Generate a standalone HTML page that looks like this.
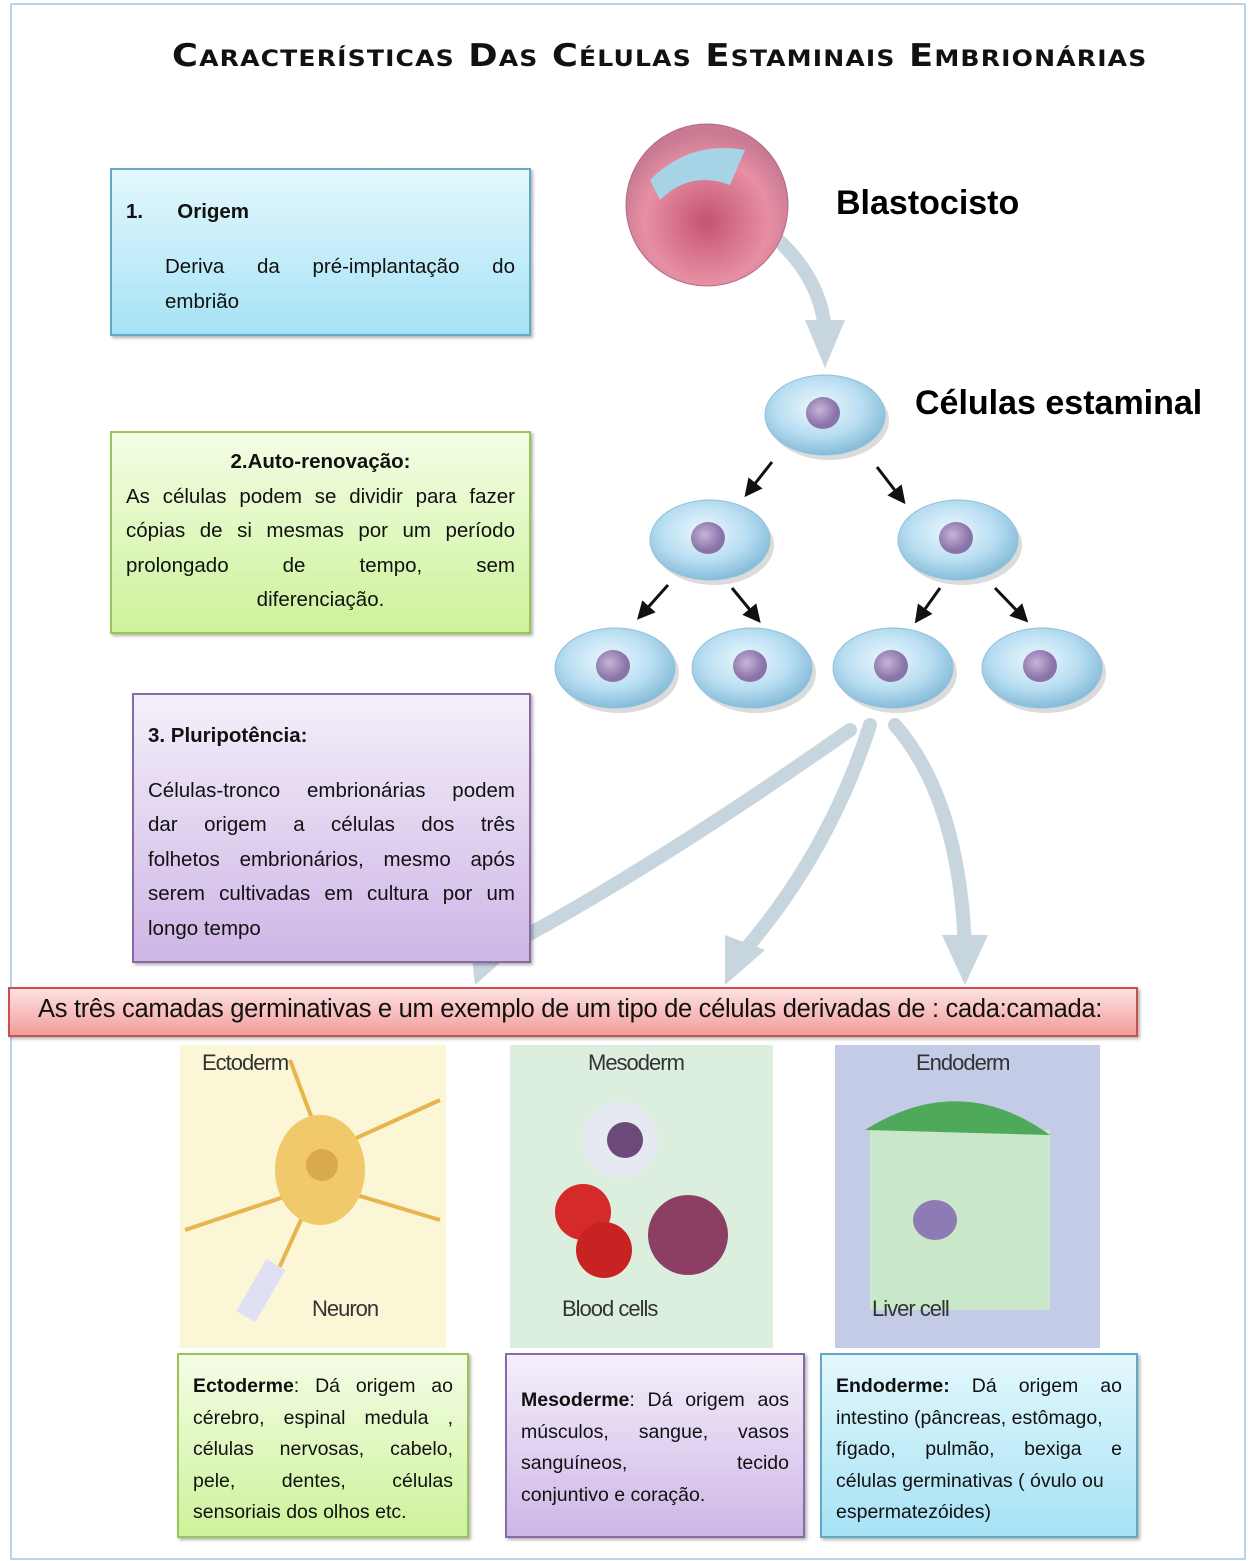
<!DOCTYPE html>
<html><head><meta charset="utf-8"><style>
body{margin:0;width:1254px;height:1561px;position:relative;background:#fff;font-family:"Liberation Sans",sans-serif;overflow:hidden}
.a{position:absolute}
.box{position:absolute;box-sizing:border-box;font-family:"Liberation Sans",sans-serif;color:#111;box-shadow:2px 2px 3px rgba(0,0,0,.3)}
.l{text-align:justify;text-align-last:justify;white-space:nowrap}
.e{text-align:left;white-space:nowrap}
</style></head><body>
<div class="a" style="left:10px;top:3px;width:1232px;height:1553px;border:2px solid #b8d4ec;border-radius:2px"></div>
<div class="a" style="left:172px;top:38px;font-family:'DejaVu Sans',sans-serif;font-weight:900;font-size:31px;letter-spacing:1px;font-variant:small-caps;color:#111;white-space:nowrap;transform:scaleX(1.14);transform-origin:0 0">Características Das Células Estaminais Embrionárias</div>

<svg class="a" style="left:0;top:0" width="1254" height="1561">
<defs>
<radialGradient id="bl" cx="45%" cy="40%" r="60%"><stop offset="0" stop-color="#ecf8fd"/><stop offset=".6" stop-color="#b9def2"/><stop offset="1" stop-color="#86bcd9"/></radialGradient>
<radialGradient id="nu" cx="40%" cy="40%"><stop offset="0" stop-color="#c6b5d9"/><stop offset="1" stop-color="#8a73a8"/></radialGradient>
<radialGradient id="bc" cx="50%" cy="60%" r="55%"><stop offset="0" stop-color="#c45470"/><stop offset=".7" stop-color="#e78fa4"/><stop offset="1" stop-color="#c77a92"/></radialGradient>
<g id="cell"><ellipse cx="4" cy="5" rx="60" ry="40" fill="#999" opacity=".35"/><ellipse cx="0" cy="0" rx="60" ry="40" fill="url(#bl)" stroke="#8fc1dc"/><ellipse cx="-2" cy="-2" rx="17" ry="16" fill="url(#nu)"/></g>
<marker id="ah" markerWidth="6" markerHeight="6" refX="3" refY="3" orient="auto"><path d="M0,0 L6,3 L0,6 z" fill="#111"/></marker>
</defs>
<g fill="none" stroke="#c6d5de" stroke-width="14" stroke-linecap="round">
<path d="M760,225 Q820,270 825,330"/>
<path d="M850,730 Q650,870 500,950"/>
<path d="M870,725 Q830,850 745,950"/>
<path d="M895,725 Q960,800 965,950"/>
</g>
<g fill="#c6d5de">
<polygon points="805,320 845,320 825,368"/>
<polygon points="470,940 520,945 475,985"/>
<polygon points="725,935 765,950 725,985"/>
<polygon points="942,935 988,935 965,985"/>
</g>
<circle cx="707" cy="205" r="81" fill="url(#bc)" stroke="#b46a84"/>
<path d="M650,180 Q690,140 745,150 L730,185 Q690,170 660,200 z" fill="#a7d3e6"/>
<use href="#cell" x="825" y="415"/>
<use href="#cell" x="710" y="540"/><use href="#cell" x="958" y="540"/>
<use href="#cell" x="615" y="668"/><use href="#cell" x="752" y="668"/>
<use href="#cell" x="893" y="668"/><use href="#cell" x="1042" y="668"/>
<g stroke="#111" stroke-width="3" marker-end="url(#ah)">
<line x1="772" y1="462" x2="750" y2="490"/><line x1="877" y1="467" x2="900" y2="497"/>
<line x1="668" y1="585" x2="643" y2="613"/><line x1="732" y1="588" x2="755" y2="616"/>
<line x1="940" y1="588" x2="920" y2="616"/><line x1="995" y1="588" x2="1022" y2="616"/>
</g>
<rect x="180" y="1045" width="266" height="303" fill="#faf6d6"/>
<rect x="510" y="1045" width="263" height="303" fill="#dcefdf"/>
<rect x="835" y="1045" width="265" height="303" fill="#c4cbe6"/>
<g stroke="#e7b44d" stroke-width="4" fill="none">
<path d="M320,1140 L290,1060"/><path d="M330,1150 L440,1100"/><path d="M305,1190 L185,1230"/><path d="M340,1190 L440,1220"/><path d="M310,1200 L260,1310"/>
</g>
<ellipse cx="320" cy="1170" rx="45" ry="55" fill="#f1c96b"/>
<circle cx="322" cy="1165" r="16" fill="#d9a950"/>
<rect x="250" y="1260" width="22" height="60" fill="#dfe0f3" transform="rotate(30 260 1290)"/>
<circle cx="620" cy="1140" r="38" fill="#e6e8f2"/><circle cx="625" cy="1140" r="18" fill="#6b4a7a"/>
<circle cx="583" cy="1212" r="28" fill="#d42a2a"/><circle cx="604" cy="1250" r="28" fill="#c92222"/>
<circle cx="688" cy="1235" r="40" fill="#8c3f63"/>
<rect x="870" y="1130" width="180" height="180" fill="#c8e8c9"/>
<path d="M865,1130 Q960,1070 1050,1135 z" fill="#4eaa5a"/>
<ellipse cx="935" cy="1220" rx="22" ry="20" fill="#8d7bb3"/>
<g font-family="Liberation Sans" font-size="22" fill="#333" letter-spacing="-1">
<text x="202" y="1070">Ectoderm</text><text x="312" y="1316">Neuron</text>
<text x="588" y="1070">Mesoderm</text><text x="562" y="1316">Blood cells</text>
<text x="916" y="1070">Endoderm</text><text x="872" y="1316">Liver cell</text>
</g>
</svg>

<div class="a" style="left:836px;top:184px;font-family:'Liberation Sans',sans-serif;font-weight:bold;font-size:34px">Blastocisto</div>
<div class="a" style="left:915px;top:384px;font-family:'Liberation Sans',sans-serif;font-weight:bold;font-size:34px;white-space:nowrap">Células estaminal</div>

<div class="box" style="left:110px;top:168px;width:421px;height:168px;border:2px solid #62a9c5;background:linear-gradient(#e3f8fd,#a6e2f5);padding:24px 14px 0 14px;font-size:20.5px;line-height:35px">
<b>1.&nbsp;&nbsp;&nbsp;&nbsp;&nbsp;&nbsp;Origem</b><div style="margin:20px 0 0 39px"><div class="l">Deriva da pré-implantação do</div><div class="e">embrião</div></div></div>

<div class="box" style="left:110px;top:431px;width:421px;height:203px;border:2px solid #9ac457;background:linear-gradient(#f4fde6,#cdf29a);padding:12px 14px 0 14px;font-size:20.5px;line-height:34.5px">
<div style="text-align:center"><b>2.Auto-renovação:</b></div>
<div class="l">As células podem se dividir para fazer</div><div class="l">cópias de si mesmas por um período</div><div class="l">prolongado de tempo, sem</div><div style="text-align:center">diferenciação.</div></div>

<div class="box" style="left:132px;top:693px;width:399px;height:270px;border:2px solid #8a6aa6;background:linear-gradient(#f5effa,#cdb6e6);padding:24px 14px 0 14px;font-size:20.5px;line-height:34.5px">
<b>3. Pluripotência:</b>
<div style="margin-top:20px"><div class="l">Células-tronco embrionárias podem</div><div class="l">dar origem a células dos três</div><div class="l">folhetos embrionários, mesmo após</div><div class="l">serem cultivadas em cultura por um</div><div class="e">longo tempo</div></div></div>

<div class="box" style="left:8px;top:987px;width:1130px;height:50px;border:2px solid #c9504c;background:linear-gradient(#fde1e1,#f29d9b);font-family:'Liberation Sans',sans-serif;font-size:25.5px;line-height:40px;padding-left:28px;white-space:nowrap;letter-spacing:-0.3px">As três camadas germinativas e um exemplo de um tipo de células derivadas de : cada:camada:</div>

<div class="box" style="left:177px;top:1353px;width:292px;height:185px;border:2px solid #9ac457;background:linear-gradient(#f4fde6,#cdf29a);padding:16px 14px 0 14px;font-size:19.5px;line-height:31.5px">
<div class="l"><b>Ectoderme</b>: Dá origem ao</div><div class="l">cérebro, espinal medula ,</div><div class="l">células nervosas, cabelo,</div><div class="l">pele, dentes, células</div><div class="e">sensoriais dos olhos etc.</div></div>

<div class="box" style="left:505px;top:1353px;width:300px;height:185px;border:2px solid #8a6aa6;background:linear-gradient(#f5effa,#cdb6e6);padding:30px 14px 0 14px;font-size:19.5px;line-height:31.5px">
<div class="l"><b>Mesoderme</b>: Dá origem aos</div><div class="l">músculos, sangue, vasos</div><div class="l">sanguíneos, tecido</div><div class="e">conjuntivo e coração.</div></div>

<div class="box" style="left:820px;top:1353px;width:318px;height:185px;border:2px solid #62a9c5;background:linear-gradient(#e3f8fd,#a6e2f5);padding:16px 14px 0 14px;font-size:19.5px;line-height:31.5px">
<div class="l"><b>Endoderme:</b> Dá origem ao</div><div class="e">intestino (pâncreas, estômago,</div><div class="l">fígado, pulmão, bexiga e</div><div class="e">células germinativas ( óvulo ou</div><div class="e">espermatezóides)</div></div>
</body></html>
